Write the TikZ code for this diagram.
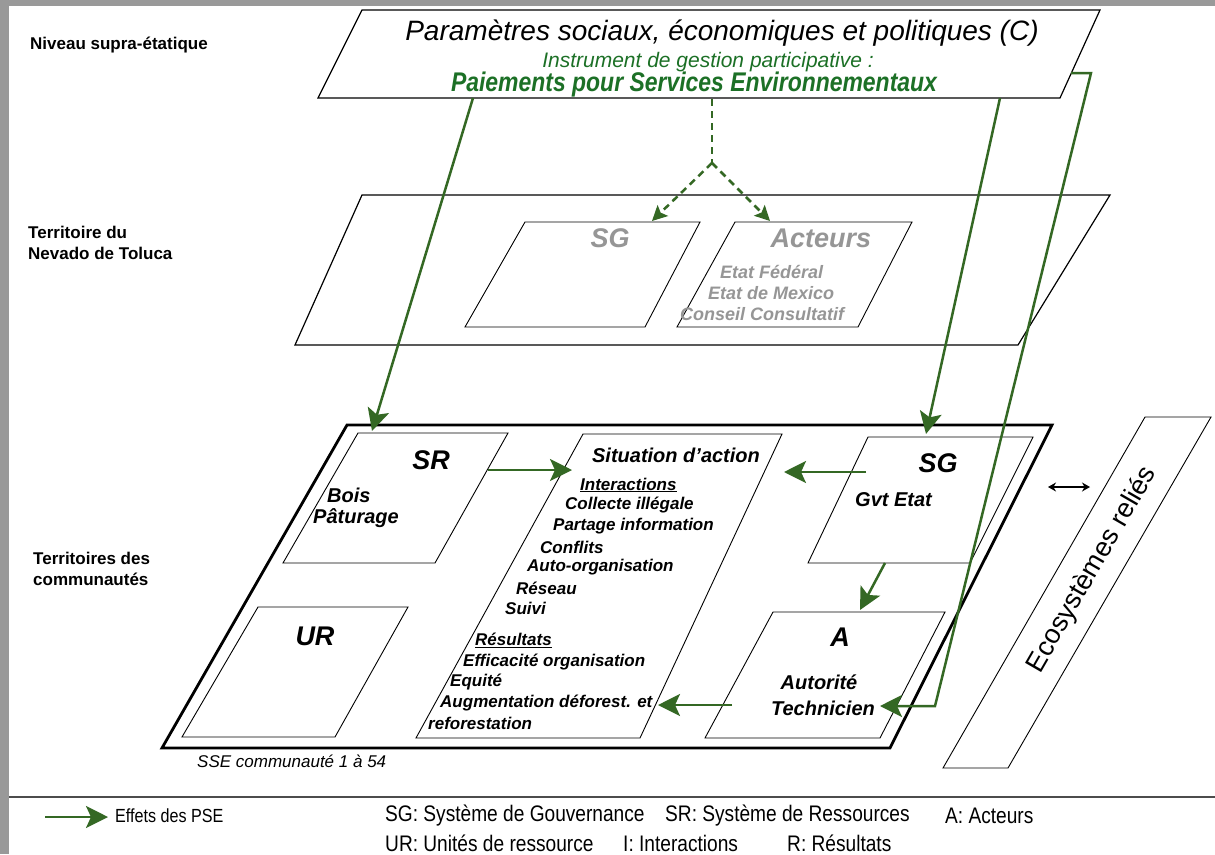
\documentclass[tikz,border=0pt]{standalone}
\usepackage{fontspec}
\setmainfont{Liberation Sans}
\newfontfamily\narrowfont[FakeStretch=0.85]{Liberation Sans}
\usepackage{xcolor}
\usetikzlibrary{arrows.meta, positioning, calc}

\definecolor{psegreen}{RGB}{52,104,36}
\definecolor{titlegreen}{RGB}{28,112,38}
\definecolor{greytxt}{RGB}{150,150,150}

\begin{document}
\begin{tikzpicture}[x=1pt, y=-1pt,
        level/.style={font=\fontsize{17}{21}\selectfont\bfseries, align=left, anchor=west, inner sep=0pt},
        plane/.style={draw, line width=1.2pt},
        box/.style={draw, line width=0.9pt},
        boxtitle/.style={font=\fontsize{27}{30}\selectfont\bfseries\itshape, inner sep=0pt},
        boxtext/.style={font=\fontsize{20}{24}\selectfont\bfseries\itshape, inner sep=0pt},
        item/.style={font=\fontsize{17}{20}\selectfont\bfseries\itshape, anchor=west, inner sep=0pt},
        pse/.style={-{Stealth[length=22pt, width=22pt, inset=5pt]}, psegreen, line width=2.5pt},
        psedash/.style={-{Stealth[length=15pt, width=15pt, inset=3pt]}, psegreen, line width=2.5pt, dash pattern=on 7pt off 5pt},
        legend/.style={font=\narrowfont\fontsize{22.5}{26}\selectfont, anchor=west, inner sep=0pt}
    ]
        \useasboundingbox (0,0) rectangle (1215,854);
        % Frame
        \fill[black!40] (0,0) rectangle (1215,854);
        \fill[white] (9,6) rectangle (1215,854);

        % Levels
        \node[level] (lvlTop) at (30,45) {Niveau supra-étatique};
        \node[level] (lvlMid) at (28,243) {Territoire du\\Nevado de Toluca};
        \node[level] (lvlLow) at (33,569) {Territoires des\\communautés};

        % Supra-state plane
        \draw[plane, fill=white] (362,10) -- (1100,10) -- (1060,98) -- (318,98) -- cycle;
        \node[font=\fontsize{28}{32}\selectfont\itshape, inner sep=0pt] (params) at (722,33) {Paramètres sociaux, économiques et politiques (C)};
        \node[font=\fontsize{21}{24}\selectfont\itshape, text=titlegreen, inner sep=0pt] (instr) at (708,62) {Instrument de gestion participative :};
        \node[font=\narrowfont\fontsize{27}{30}\selectfont\bfseries\itshape, text=titlegreen, inner sep=0pt] (pse) at (694,85) {Paiements pour Services Environnementaux};

        % Nevado de Toluca plane
        \draw[plane] (362,195) -- (1110,195) -- (1018,345) -- (295,345) -- cycle;
        \draw[box] (525,222) -- (700,222) -- (645,327) -- (465,327) -- cycle;
        \draw[box] (735,222) -- (912,222) -- (858,327) -- (677,327) -- cycle;
        \node[boxtitle, text=greytxt] (sgNT) at (610,238) {SG};
        \node[boxtitle, text=greytxt] (actNT) at (821,238) {Acteurs};
        \node[item, text=greytxt, font=\fontsize{18}{20}\selectfont\bfseries\itshape] (fed) at (720,272) {Etat Fédéral};
        \node[item, text=greytxt, font=\fontsize{18}{20}\selectfont\bfseries\itshape] (mex) at (708,293) {Etat de Mexico};
        \node[item, text=greytxt, font=\fontsize{18}{20}\selectfont\bfseries\itshape] (cons) at (680,314) {Conseil Consultatif};

        % Communities plane
        \draw[line width=2.8pt] (347,425) -- (1052,425) -- (890,748) -- (162,748) -- cycle;
        \draw[box] (358,433) -- (508,433) -- (435,563) -- (283,563) -- cycle;
        \draw[box] (258,607) -- (408,607) -- (335,737) -- (182,737) -- cycle;
        \draw[box] (583,434) -- (782,434) -- (640,738) -- (416,738) -- cycle;
        \draw[box] (868,437) -- (1033,437) -- (970,563) -- (808,563) -- cycle;
        \draw[box] (773,612) -- (945,612) -- (880,738) -- (705,738) -- cycle;

        \node[boxtitle] (sr) at (431,460) {SR};
        \node[boxtext, anchor=west] (bois) at (327,495) {Bois};
        \node[boxtext, anchor=west] (patur) at (313,518) {Pâturage};
        \node[boxtitle] (ur) at (315,636) {UR};

        \node[boxtext] (sit) at (676,455) {Situation d'action};
        \node[item] (inter) at (580,485) {\underline{Interactions}};
        \node[item] (i1) at (565,505) {Collecte illégale};
        \node[item] (i2) at (553,526) {Partage information};
        \node[item] (i3) at (540,547) {Conflits};
        \node[item] (i4) at (527,567) {Auto-organisation};
        \node[item] (i5) at (516,588) {Réseau};
        \node[item] (i6) at (505,608) {Suivi};
        \node[item] (res) at (475,640) {\underline{Résultats}};
        \node[item] (r1) at (463,662) {Efficacité organisation};
        \node[item] (r2) at (450,682) {Equité};
        \node[item] (r3) at (440,703) {Augmentation déforest. et};
        \node[item] (r4) at (428,723) {reforestation};

        \node[boxtitle] (sg) at (938,463) {SG};
        \node[boxtext, anchor=west] (gvt) at (855,500) {Gvt Etat};
        \node[boxtitle] (act) at (840,637) {A};
        \node[boxtext] (auth) at (819,682) {Autorité};
        \node[boxtext] (tech) at (823,708) {Technicien};

        \node[font=\fontsize{17}{20}\selectfont\itshape, anchor=west, inner sep=0pt] (sse) at (197,761) {SSE communauté 1 à 54};

        % Related ecosystems
        \draw[box] (1145,417) -- (1211,417) -- (1008,768) -- (943,768) -- cycle;
        \node[rotate=60, font=\fontsize{27}{30}\selectfont, inner sep=0pt] (eco) at (1092,570) {Ecosystèmes reliés};
        \coordinate (linkL) at (1048,487);
        \coordinate (linkR) at (1090,487);
        \draw[{Stealth[length=8pt, width=9pt]}-{Stealth[length=8pt, width=9pt]}, line width=1.1pt] (linkL) -- (linkR);

        % Effects of PES
        \coordinate (topL) at (473,98);
        \coordinate (srIn) at (372,431);
        \coordinate (topR) at (1000,98);
        \coordinate (sgIn) at (926,434);
        \coordinate (topE) at (1071,73);
        \coordinate (bendA) at (1091,73);
        \coordinate (bendB) at (935,706);
        \coordinate (actIn) at (880,706);
        \draw[pse] (topL) -- (srIn);
        \draw[pse] (topR) -- (sgIn);
        \draw[pse] (topE) -- (bendA) -- (bendB) -- (actIn);

        \coordinate (srOut) at (488,470);
        \coordinate (sitInL) at (572,470);
        \coordinate (sgOut) at (866,472);
        \coordinate (sitInR) at (784,472);
        \coordinate (sgDown) at (885,563);
        \coordinate (actTop) at (860,610);
        \coordinate (actOut) at (732,705);
        \coordinate (sitInB) at (658,705);
        \draw[pse] (srOut) -- (sitInL);
        \draw[pse] (sgOut) -- (sitInR);
        \draw[pse] (sgDown) -- (actTop);
        \draw[pse] (actOut) -- (sitInB);

        % Dashed split to Nevado level
        \coordinate (dashTop) at (712,99);
        \coordinate (split) at (712,163);
        \coordinate (sgNTin) at (652,221);
        \coordinate (actNTin) at (770,221);
        \draw[psegreen, line width=2.5pt, dash pattern=on 7pt off 5pt] (dashTop) -- (split);
        \draw[psedash] (split) -- (sgNTin);
        \draw[psedash] (split) -- (actNTin);

        % Legend
        \draw[black!70, line width=1.8pt] (9,797) -- (1215,797);
        \coordinate (legA) at (45,817);
        \coordinate (legB) at (108,817);
        \draw[pse] (legA) -- (legB);
        \node[legend, font=\narrowfont\fontsize{19}{22}\selectfont] (legPse) at (115,816) {Effets des PSE};
        \node[legend] (legSG) at (385,816) {SG: Système de Gouvernance};
        \node[legend] (legSR) at (665,816) {SR: Système de Ressources};
        \node[legend] (legA2) at (945,816) {A: Acteurs};
        \node[legend] (legUR) at (385,843) {UR: Unités de ressource};
        \node[legend] (legI) at (623,843) {I: Interactions};
        \node[legend] (legR) at (787,843) {R: Résultats};
\end{tikzpicture}
\end{document}
